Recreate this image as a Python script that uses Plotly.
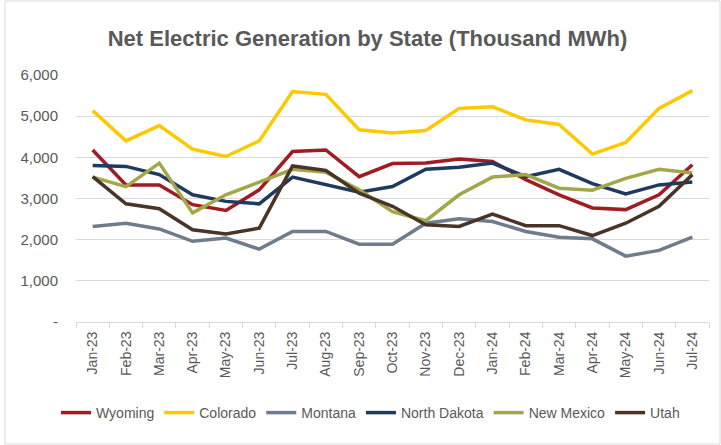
import plotly.graph_objects as go

months = ["Jan-23", "Feb-23", "Mar-23", "Apr-23", "May-23", "Jun-23", "Jul-23", "Aug-23",
          "Sep-23", "Oct-23", "Nov-23", "Dec-23", "Jan-24", "Feb-24", "Mar-24", "Apr-24",
          "May-24", "Jun-24", "Jul-24"]

wyoming = [4180, 3330, 3330, 2850, 2710, 3210, 4140, 4180, 3530, 3850, 3860, 3960, 3900,
           3460, 3090, 2770, 2730, 3090, 3820]
colorado = [5135, 4400, 4770, 4200, 4020, 4400, 5600, 5530, 4670, 4590, 4650, 5190, 5230,
            4910, 4800, 4080, 4360, 5190, 5620]
montana = [2320, 2400, 2260, 1960, 2040, 1770, 2200, 2200, 1890, 1890, 2400, 2510, 2440,
           2200, 2060, 2020, 1600, 1740, 2060]
north_dakota = [3800, 3780, 3580, 3090, 2930, 2870, 3520, 3330, 3150, 3290, 3710, 3760, 3860,
                3530, 3710, 3360, 3110, 3330, 3400]
new_mexico = [3520, 3290, 3860, 2650, 3090, 3410, 3710, 3640, 3210, 2680, 2460, 3090, 3520,
              3580, 3250, 3200, 3490, 3710, 3620]
utah = [3530, 2870, 2750, 2240, 2140, 2280, 3790, 3680, 3130, 2810, 2360, 2320, 2620,
        2340, 2340, 2100, 2400, 2810, 3580]

series = [
    ("Wyoming", wyoming, "#A01C22"),
    ("Colorado", colorado, "#FFC800"),
    ("Montana", montana, "#6E7C8C"),
    ("North Dakota", north_dakota, "#1F3A5F"),
    ("New Mexico", new_mexico, "#A2A84A"),
    ("Utah", utah, "#4A3427"),
]

y_ticks = [0, 1000, 2000, 3000, 4000, 5000, 6000]
y_ticktext = ["-", "1,000", "2,000", "3,000", "4,000", "5,000", "6,000"]

fig = go.Figure()
for name, vals, color in series:
    fig.add_trace(go.Scatter(x=months, y=vals, name=name, mode="lines",
                             line=dict(color=color, width=3.5)))

base = "Liberation Sans, Arial, sans-serif"

L, R, T, B = 76, 12, 75, 123
W, H = 721, 445
pw, ph = W - L - R, H - T - B

fig.update_layout(
    width=W, height=H,
    margin=dict(l=L, r=R, t=T, b=B),
    paper_bgcolor="white", plot_bgcolor="white",
    title=dict(text="<b>Net Electric Generation by State (Thousand MWh)</b>",
               x=(367.5 - L) / pw, xref="paper", xanchor="center",
               y=1 - 38 / H, yanchor="middle",
               font=dict(family=base, size=22, color="#595959")),
    font=dict(family=base, color="#595959", size=12),
    showlegend=True,
    legend=dict(orientation="h", x=(370.5 - L) / pw, xanchor="center",
                y=-(413 - (T + ph)) / ph, yanchor="middle",
                font=dict(family=base, size=14, color="#595959"),
                itemwidth=30, tracegroupgap=0),
    xaxis=dict(type="category", tickangle=-90, showgrid=False, showline=True,
               linecolor="#D9D9D9", linewidth=1, ticks="outside", tickson="boundaries",
               ticklen=5, tickcolor="#D9D9D9", tickfont=dict(size=14, color="#595959"),
               range=[-0.5, len(months) - 0.5], ticklabelstandoff=3),
    yaxis=dict(range=[0, 6000], tickvals=y_ticks, ticktext=y_ticktext, showgrid=True,
               gridcolor="#D9D9D9", gridwidth=1, zeroline=False, showline=False,
               tickfont=dict(size=15, color="#595959"), ticklabelstandoff=17),
    shapes=[dict(type="rect", xref="paper", yref="paper",
                 x0=(5 - L) / pw, x1=(720 - L) / pw,
                 y0=(T + ph - 444) / ph, y1=(T + ph - 1) / ph,
                 line=dict(color="#D9D9D9", width=1), fillcolor="rgba(0,0,0,0)",
                 layer="below")],
)

post = "document.body.style.margin = '0';"

fig.write_html("out.html", post_script=post, config={"displayModeBar": False})
